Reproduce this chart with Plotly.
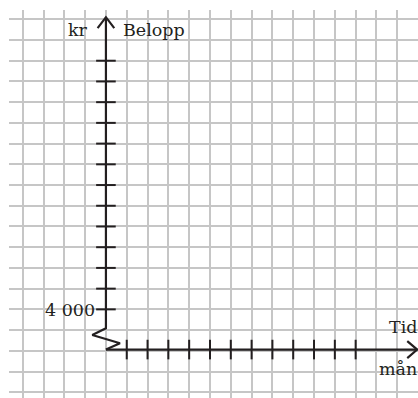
import plotly.graph_objects as go

# Everything is in grid units: one square = 1, origin where the two axes meet.
MONTH_TICKS = [1, 2, 3, 4, 5, 6, 7, 8, 9, 10, 11, 12]
BELOPP_TICKS = [2, 3, 4, 5, 6, 7, 8, 9, 10, 11, 12, 13, 14]
BELOPP_LABEL_AT = 2
BELOPP_LABEL = "4 000"
Y_TITLE = "Belopp"
Y_UNIT = "kr"
X_TITLE = "Tid"
X_UNIT = "mån"

INK = "#231f20"
GRID = "#c6c6c6"
FONT = "DejaVu Serif"

X_RANGE = [-4.658, 14.996]
Y_RANGE = [-2.278, 16.448]

AXIS_Y = 0.06      # level of the time axis
Y_TOP = 16.1       # tip of the amount axis
X_END = 14.96      # tip of the time axis
BREAK_BOTTOM = 1.086

# amount axis, then the zigzag break down to the time axis
y_axis_x = [0, 0, -0.655, 0.676, 0]
y_axis_y = [Y_TOP, BREAK_BOTTOM, 0.763, 0.362, AXIS_Y]

fig = go.Figure()

line = dict(color=INK, width=2.2)
fig.add_trace(go.Scatter(x=y_axis_x, y=y_axis_y, mode="lines", line=line))
fig.add_trace(go.Scatter(x=[0, X_END], y=[AXIS_Y, AXIS_Y], mode="lines", line=line))

# arrow heads (open chevrons)
fig.add_trace(go.Scatter(x=[-0.40, 0, 0.40], y=[Y_TOP - 0.53, Y_TOP, Y_TOP - 0.53],
                         mode="lines", line=line))
fig.add_trace(go.Scatter(x=[X_END - 0.48, X_END, X_END - 0.48],
                         y=[AXIS_Y + 0.41, AXIS_Y, AXIS_Y - 0.41],
                         mode="lines", line=line))

# ticks
fig.add_trace(go.Scatter(
    x=MONTH_TICKS, y=[AXIS_Y] * len(MONTH_TICKS), mode="markers",
    marker=dict(symbol="line-ns", size=14, line=dict(color=INK, width=2))))
fig.add_trace(go.Scatter(
    x=[0] * len(BELOPP_TICKS), y=BELOPP_TICKS, mode="markers",
    marker=dict(symbol="line-ew", size=14, line=dict(color=INK, width=2))))

txt = dict(family=FONT, size=17.5, color=INK)
ann = dict(showarrow=False, font=txt, borderpad=0, borderwidth=0, yanchor="middle")
fig.add_annotation(x=0, y=BELOPP_LABEL_AT, text=BELOPP_LABEL, xanchor="right",
                   xshift=-11, yshift=-1, **ann)
fig.add_annotation(x=0, y=15.48, text=Y_UNIT, xanchor="right", xshift=-18, **ann)
fig.add_annotation(x=0, y=15.48, text=Y_TITLE, xanchor="left", xshift=17, **ann)
fig.add_annotation(x=X_RANGE[1], y=1.15, text=X_TITLE, xanchor="right", xshift=-1, **ann)
fig.add_annotation(x=X_RANGE[1], y=-0.87, text=X_UNIT, xanchor="right", xshift=-1, **ann)

grid = dict(showgrid=True, gridcolor=GRID, gridwidth=1.6, tick0=0, dtick=1,
            zeroline=False, showticklabels=False, ticks="", showline=False, fixedrange=True)
fig.update_xaxes(range=X_RANGE, **grid)
fig.update_yaxes(range=Y_RANGE, **grid)

fig.update_layout(
    width=418, height=398,
    margin=dict(l=9, r=0, t=10, b=0),
    paper_bgcolor="white", plot_bgcolor="white",
    showlegend=False,
)

# the page body has a default 8px margin; drop it so the figure fills the window
fig.write_html("out.html", config={"displayModeBar": False},
               post_script="document.body.style.margin='0';document.body.style.overflow='hidden';")
